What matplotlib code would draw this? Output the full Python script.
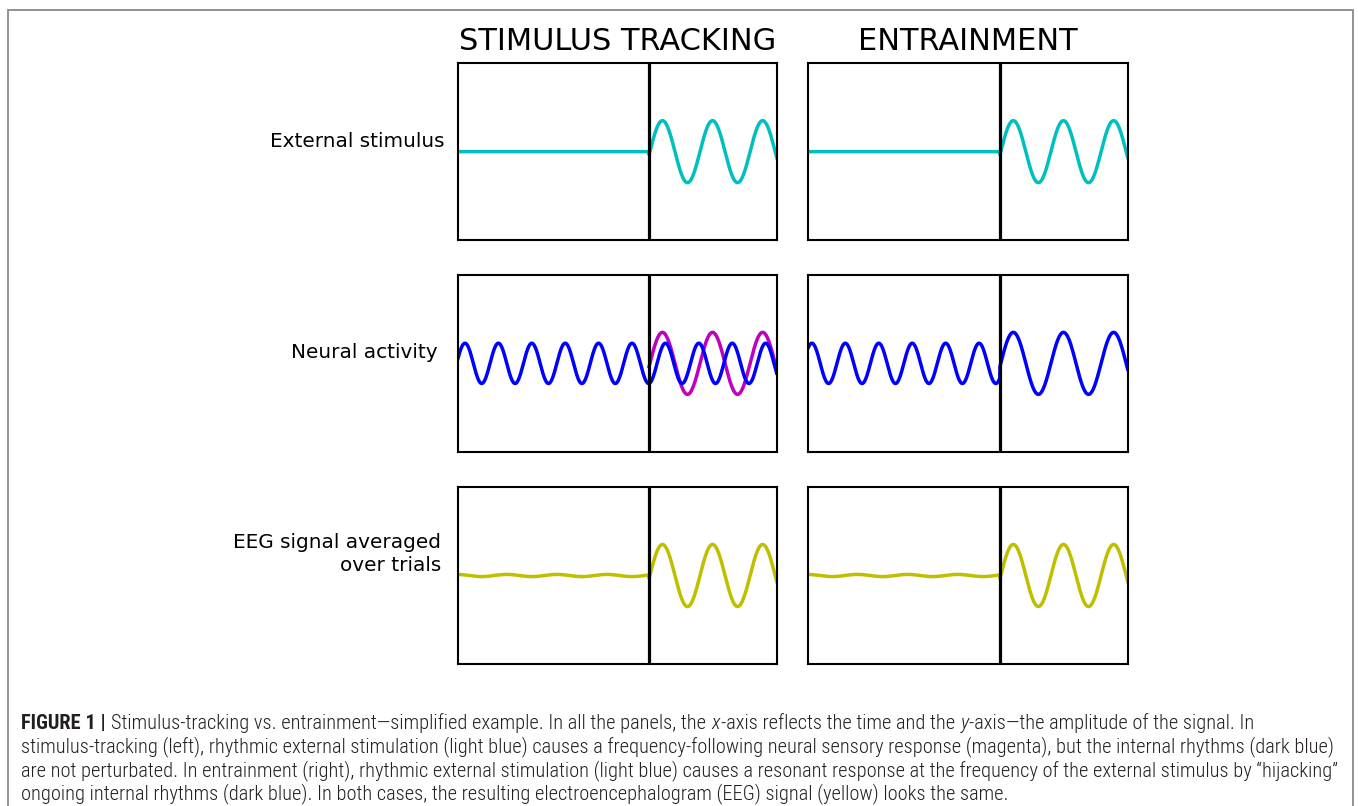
"""Stimulus tracking vs. entrainment: schematic sine-wave panels with caption."""

import matplotlib

matplotlib.use("Agg")

import matplotlib.pyplot as plt
import numpy as np
from matplotlib import font_manager
from matplotlib.patches import Rectangle

# --- chart values -----------------------------------------------------------
column_titles = ["STIMULUS TRACKING", "ENTRAINMENT"]
row_labels = [["External stimulus"], ["Neural activity"], ["EEG signal averaged", "over trials"]]

t_start, t_end = 0.0, 10.0
onset = 6.0                       # stimulus switches on (vertical line)

stim_freq = 4.0                   # rad per time unit
stim_amp = 1.0
stim_phase = -0.1

internal_freq = 6.0
internal_amp = 0.65
internal_phase = [0.2, 0.9]       # tracking column, entrainment column

eeg_residual_amp = 0.035
eeg_residual_phase = 1.7

y_limit = 2.85

# first caption line is built from (text, weight, style) runs
caption_first = [
    ("FIGURE 1 |", "bold", "normal"),
    (" Stimulus-tracking vs. entrainment\u2014simplified example. In all the panels, the ", None, "normal"),
    ("x", None, "italic"),
    ("-axis reflects the time and the ", None, "normal"),
    ("y", None, "italic"),
    ("-axis\u2014the amplitude of the signal. In", None, "normal"),
]
caption_rest = [
    "stimulus-tracking (left), rhythmic external stimulation (light blue) causes a frequency-following "
    "neural sensory response (magenta), but the internal rhythms (dark blue)",
    "are not perturbated. In entrainment (right), rhythmic external stimulation (light blue) causes a "
    "resonant response at the frequency of the external stimulus by \u201chijacking\u201d",
    "ongoing internal rhythms (dark blue). In both cases, the resulting electroencephalogram (EEG) "
    "signal (yellow) looks the same.",
]

# --- layout (pixels of the 1358x806 canvas) ---------------------------------
W, H = 1358, 806
col_x = [(457.7, 776.7), (808.3, 1127.7)]
row_y = [(63.3, 240.0), (275.0, 451.7), (487.0, 664.0)]
label_right = [445, 438, 441]
label_baseline = [146.7, 358.5, 571.0]
caption_left = 21
caption_baselines = [729.3, 752.7, 776.0, 799.6]


def fx(px):
    return px / W


def fy(py):
    return 1 - py / H


# the caption is set in a condensed grotesque; use a narrow face if one exists
names = {f.name for f in font_manager.fontManager.ttflist}
cap_family = "Liberation Sans"
for cand in ["Roboto Condensed", "Liberation Sans Narrow", "Open Sans Condensed",
             "DejaVu Sans Condensed"]:
    if cand in names:
        cap_family = cand
        break
cap_weight = "light"

t = np.linspace(t_start, t_end, 2001)
post = t >= onset
stimulus = np.where(post, stim_amp * np.sin(stim_freq * (t - onset) + stim_phase), 0.0)
eeg = np.where(post, stimulus, eeg_residual_amp * np.sin(stim_freq * t + eeg_residual_phase))
internal_track = internal_amp * np.sin(internal_freq * t + internal_phase[0])
internal_entrain = np.where(post, stimulus,
                            internal_amp * np.sin(internal_freq * t + internal_phase[1]))

fig = plt.figure(figsize=(W / 100, H / 100), dpi=100)

axes = {}
for r, (y0, y1) in enumerate(row_y):
    for c, (x0, x1) in enumerate(col_x):
        ax = fig.add_axes([fx(x0), fy(y1), (x1 - x0) / W, (y1 - y0) / H])
        ax.set_xlim(t_start, t_end)
        ax.set_ylim(-y_limit, y_limit)
        ax.set_xticks([])
        ax.set_yticks([])
        for s in ax.spines.values():
            s.set_linewidth(1.5)
            s.set_color("black")
        ax.axvline(onset, color="black", lw=2.3, zorder=5)
        axes[r, c] = ax

lw = 2.5
for c in range(2):
    axes[0, c].plot(t, stimulus, color="c", lw=lw)
    axes[2, c].plot(t, eeg, color="y", lw=lw)
axes[1, 0].plot(t[post], stimulus[post], color="m", lw=lw)
axes[1, 0].plot(t, internal_track, color="b", lw=lw)
axes[1, 1].plot(t, internal_entrain, color="b", lw=lw)

for c, title in enumerate(column_titles):
    fig.text(fx(sum(col_x[c]) / 2), fy(50), title, ha="center", va="baseline",
             fontsize=21.9, family="DejaVu Sans")

for r, lines in enumerate(row_labels):
    n = len(lines)
    for i, line in enumerate(lines):
        fig.text(fx(label_right[r]), fy(label_baseline[r] - (n - 1 - i) * 23), line,
                 ha="right", va="baseline", fontsize=14.4, family="DejaVu Sans")

# --- caption -----------------------------------------------------------------
renderer = fig.canvas.get_renderer()


def text_width(s, **kw):
    probe = fig.text(0, 0, s, **kw)
    w = probe.get_window_extent(renderer).width
    probe.remove()
    return w


# size so the longest line spans the same width as in the figure
cap_size = 14 * (1340 - caption_left) / text_width(caption_rest[1], fontsize=14,
                                                   family=cap_family, weight=cap_weight)
cap_kw = dict(fontsize=cap_size, family=cap_family, color="#231f20", va="baseline")
space = (text_width("a a", fontsize=cap_size, family=cap_family, weight=cap_weight)
         - text_width("aa", fontsize=cap_size, family=cap_family, weight=cap_weight))

x = caption_left
for text, weight, style in caption_first:
    lead = text.startswith(" ")
    trail = text.endswith(" ")
    core = text.strip()
    if lead:
        x += space
    w_kw = dict(weight=weight or cap_weight, style=style)
    fig.text(fx(x), fy(caption_baselines[0]), core, ha="left", **w_kw, **cap_kw)
    x += text_width(core, fontsize=cap_size, family=cap_family, **w_kw) + 0.8
    if trail:
        x += space

for line, base in zip(caption_rest, caption_baselines[1:]):
    fig.text(fx(caption_left), fy(base), line, ha="left", weight=cap_weight, **cap_kw)

fig.add_artist(Rectangle((fx(8), -0.05), (1353 - 8) / W, fy(10) + 0.05,
                         transform=fig.transFigure, fill=False, ec="#8a8a8a", lw=1.3))

fig.savefig("out.png", dpi=100)
plt.close(fig)
